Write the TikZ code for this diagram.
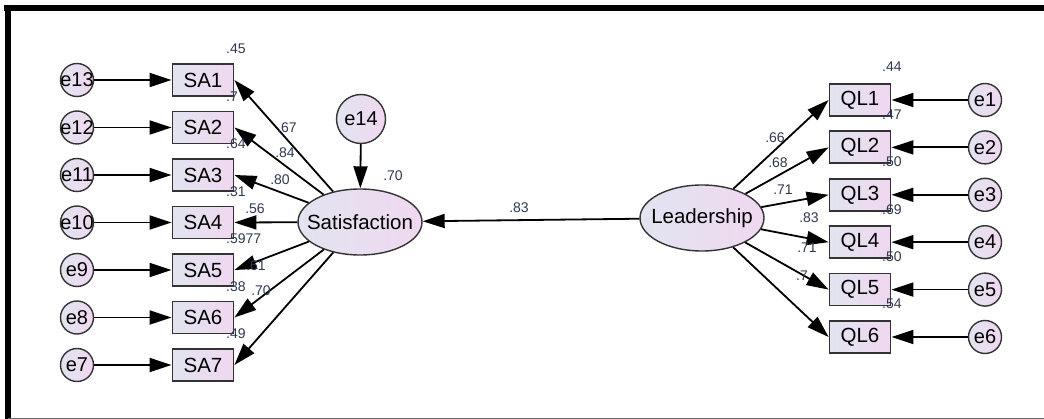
\documentclass[tikz,border=0pt]{standalone}
\usepackage{fontspec}
\setmainfont{Liberation Sans}
\usetikzlibrary{arrows.meta,shapes.geometric}

\definecolor{shadeL}{HTML}{E2E4F0}
\definecolor{shadeR}{HTML}{F0D8F0}
\definecolor{edgegray}{HTML}{333333}
\definecolor{numtext}{HTML}{2E3850}

\begin{document}
\begin{tikzpicture}[x=1pt, y=-1pt,
    obs/.style={draw=edgegray, line width=1.8pt, left color=shadeL, right color=shadeR,
      minimum width=61pt, minimum height=32pt, inner sep=0pt, font=\fontsize{20.5}{20.5}\selectfont},
    err/.style={circle, draw=edgegray, line width=1.4pt, left color=shadeL, right color=shadeR,
      minimum size=33pt, inner sep=0pt, font=\fontsize{20}{20}\selectfont},
    latent/.style={ellipse, draw=edgegray, line width=1.4pt, left color=shadeL, right color=shadeR,
      minimum width=124pt, minimum height=66pt, inner sep=0pt, font=\fontsize{20.5}{20.5}\selectfont},
    effect/.style={line width=1.8pt, -{Triangle[length=22pt,width=14pt]}},
    num/.style={font=\fontsize{14}{14}\selectfont, text=numtext, inner sep=0pt}]
  \useasboundingbox (0,0) rectangle (1044,419);

  % --- frame ---
  \draw[line width=6pt] (4,8) -- (1044,8);
  \draw[line width=6pt] (8,5) -- (8,419);
  \draw[line width=0.8pt, black!60] (8,418) -- (1044,418);

  % --- latent variables ---
  \node[latent] (sat)  at (360,222) {\makebox[0pt]{Satisfaction}};
  \node[latent] (lead) at (702,218) {\makebox[0pt]{Leadership}};
  \node[err, minimum size=49pt] (e14) at (361,119) {\makebox[0pt]{e14}};
  \draw[effect] (e14) -- (sat);
  \draw[effect] (lead) -- (sat);
  \node[num] (r14) at (393,176) {.70};
  \node[num] (b83) at (519,208) {.83};

  % --- Satisfaction items (left) ---
  \foreach \i/\e/\r/\lx/\ly/\l in {1/13/.45/287/128/.67, 2/12/.7/285/153/.84, 3/11/.64/280/180/.80,
      4/10/.31/255/209/.56, 5/9/.5977/0/0/{}, 6/8/.38/256/266/.61, 7/7/.49/261/291/.70} {
    \pgfmathsetmacro{\yy}{80+47.5*(\i-1)}
    \node[obs] (sa\i) at (203,\yy) {SA\i};
    \node[err] (e\e) at (77,\yy) {\makebox[0pt]{e\e}};
    \draw[effect] (e\e) -- (sa\i);
    \draw[effect] (sat) -- (sa\i.east);
    \node[num, anchor=west] (rsa\i) at (226,\yy-31) {\r};
    \ifx\l\empty\else
      \node[num] (lsa\i) at (\lx,\ly) {\l};
    \fi
  }

  % --- Leadership items (right) ---
  \foreach \i/\r/\lx/\ly/\l in {1/.44/775/138/.66, 2/.47/778/163/.68, 3/.50/783/190/.71,
      4/.69/809/218/.83, 5/.50/807/248/.71, 6/.54/802/276/.7} {
    \pgfmathsetmacro{\yy}{100+47.4*(\i-1)}
    \node[obs] (ql\i) at (860,\yy) {QL\i};
    \node[err] (e\i) at (985,\yy) {\makebox[0pt]{e\i}};
    \draw[effect] (e\i) -- (ql\i);
    \draw[effect] (lead) -- (ql\i.west);
    \node[num, anchor=west] (rql\i) at (882,\yy-33) {\r};
    \node[num] (lql\i) at (\lx,\ly) {\l};
  }
\end{tikzpicture}
\end{document}
